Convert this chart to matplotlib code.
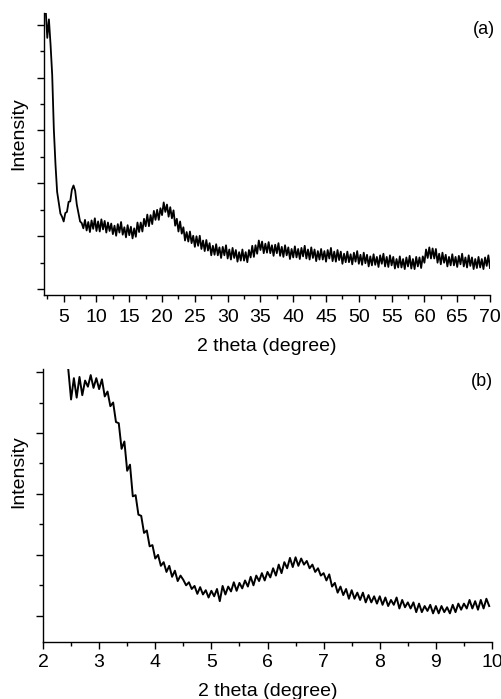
import numpy as np
import matplotlib
matplotlib.use("Agg")
import matplotlib.pyplot as plt
from matplotlib.ticker import MultipleLocator, NullFormatter

plt.rcParams['font.family'] = ['Liberation Sans', 'DejaVu Sans']

# ---- (a) wide-angle scan, 2.25-70 deg, 0.25 deg step ----
intensity_a = [
    5.30, 4.75, 5.10, 4.62, 4.05, 3.02, 2.36, 1.84,
    1.63, 1.43, 1.37, 1.28, 1.44, 1.46, 1.65, 1.66,
    1.88, 1.96, 1.86, 1.60, 1.44, 1.28, 1.25, 1.15,
    1.31, 1.11, 1.27, 1.08, 1.30, 1.14, 1.34, 1.10,
    1.28, 1.09, 1.32, 1.13, 1.29, 1.07, 1.26, 1.10,
    1.24, 1.04, 1.20, 1.01, 1.23, 1.07, 1.27, 1.03,
    1.17, 0.98, 1.21, 1.02, 1.18, 0.96, 1.15, 0.99,
    1.26, 1.08, 1.26, 1.09, 1.33, 1.19, 1.41, 1.19,
    1.40, 1.23, 1.48, 1.31, 1.50, 1.31, 1.53, 1.40,
    1.64, 1.46, 1.60, 1.37, 1.55, 1.34, 1.49, 1.20,
    1.33, 1.09, 1.28, 1.05, 1.17, 0.92, 1.08, 0.90,
    1.09, 0.87, 1.01, 0.80, 1.00, 0.82, 1.01, 0.76,
    0.92, 0.72, 0.93, 0.73, 0.87, 0.64, 0.82, 0.65,
    0.85, 0.64, 0.79, 0.59, 0.80, 0.64, 0.83, 0.58,
    0.75, 0.56, 0.78, 0.59, 0.74, 0.52, 0.70, 0.54,
    0.75, 0.54, 0.70, 0.51, 0.74, 0.60, 0.82, 0.61,
    0.83, 0.67, 0.92, 0.74, 0.90, 0.68, 0.86, 0.69,
    0.89, 0.68, 0.83, 0.63, 0.84, 0.68, 0.87, 0.63,
    0.80, 0.61, 0.83, 0.64, 0.79, 0.57, 0.76, 0.60,
    0.81, 0.60, 0.76, 0.57, 0.78, 0.62, 0.82, 0.58,
    0.75, 0.56, 0.79, 0.59, 0.75, 0.53, 0.72, 0.56,
    0.76, 0.56, 0.72, 0.52, 0.74, 0.58, 0.78, 0.53,
    0.71, 0.52, 0.74, 0.55, 0.71, 0.48, 0.67, 0.51,
    0.71, 0.51, 0.66, 0.47, 0.69, 0.52, 0.72, 0.48,
    0.65, 0.46, 0.69, 0.49, 0.65, 0.43, 0.62, 0.45,
    0.66, 0.46, 0.61, 0.42, 0.64, 0.48, 0.67, 0.43,
    0.61, 0.42, 0.64, 0.45, 0.61, 0.39, 0.57, 0.41,
    0.62, 0.41, 0.57, 0.38, 0.60, 0.43, 0.63, 0.39,
    0.57, 0.38, 0.61, 0.43, 0.60, 0.40, 0.62, 0.50,
    0.75, 0.59, 0.79, 0.58, 0.77, 0.58, 0.76, 0.50,
    0.67, 0.47, 0.69, 0.50, 0.65, 0.43, 0.61, 0.45,
    0.66, 0.45, 0.61, 0.42, 0.63, 0.47, 0.67, 0.43,
    0.60, 0.41, 0.64, 0.44, 0.60, 0.38, 0.57, 0.40,
    0.61, 0.41, 0.57, 0.38, 0.60, 0.44, 0.64, 0.40,
]
two_theta_a = np.linspace(2.25, 70.0, len(intensity_a))

# ---- (b) low-angle scan, 2.45-9.95 deg, 0.05 deg step ----
intensity_b = [
    4.05, 3.55, 3.90, 3.58, 3.92, 3.62, 3.86, 3.76, 3.95, 3.74, 3.90,
    3.72, 3.88, 3.60, 3.68, 3.44, 3.50, 3.18, 3.16, 2.74, 2.86,
    2.38, 2.48, 1.96, 1.98, 1.66, 1.64, 1.36, 1.40, 1.14, 1.16,
    0.94, 1.00, 0.82, 0.88, 0.72, 0.82, 0.64, 0.74, 0.57, 0.66,
    0.59, 0.50, 0.55, 0.44, 0.49, 0.36, 0.47, 0.35, 0.42, 0.30,
    0.41, 0.32, 0.44, 0.24, 0.49, 0.35, 0.48, 0.40, 0.55, 0.41,
    0.54, 0.45, 0.58, 0.48, 0.64, 0.50, 0.66, 0.57, 0.70, 0.58,
    0.72, 0.63, 0.78, 0.66, 0.84, 0.70, 0.88, 0.78, 0.95, 0.80,
    0.96, 0.82, 0.94, 0.84, 0.90, 0.78, 0.84, 0.72, 0.78, 0.66,
    0.70, 0.58, 0.68, 0.48, 0.54, 0.38, 0.48, 0.34, 0.44, 0.28,
    0.42, 0.28, 0.38, 0.26, 0.38, 0.22, 0.34, 0.22, 0.32, 0.20,
    0.32, 0.18, 0.30, 0.16, 0.26, 0.18, 0.30, 0.12, 0.26, 0.14,
    0.22, 0.12, 0.22, 0.06, 0.20, 0.06, 0.16, 0.08, 0.18, 0.04,
    0.16, 0.04, 0.16, 0.06, 0.14, 0.04, 0.18, 0.06, 0.20, 0.10,
    0.20, 0.12, 0.26, 0.12, 0.24, 0.10, 0.26, 0.12, 0.28, 0.16,
]
two_theta_b = np.linspace(2.45, 9.95, len(intensity_b))

xticks_a = list(range(5, 71, 5))
xticks_b = list(range(2, 11))

W, H = 501, 699
fig = plt.figure(figsize=(W / 100, H / 100), dpi=100)


def px_axes(left, top, right, bottom):
    return fig.add_axes([left / W, 1 - bottom / H, (right - left) / W, (bottom - top) / H])


ax_a = px_axes(44, 13, 490, 295)
ax_b = px_axes(43, 369, 492, 642)

ax_a.plot(two_theta_a, intensity_a, color='black', lw=1.3)
ax_b.plot(two_theta_b, intensity_b, color='black', lw=1.4)

ax_a.set_xlim(2, 70)
ax_a.set_ylim(-0.11, 5.22)
ax_b.set_xlim(2, 10)
ax_b.set_ylim(-0.43, 4.05)

ax_a.set_xticks(xticks_a)
ax_a.xaxis.set_minor_locator(MultipleLocator(2.5))
ax_b.set_xticks(xticks_b)
ax_b.xaxis.set_minor_locator(MultipleLocator(0.5))

for ax, pad in ((ax_a, 5), (ax_b, 3.5)):
    ax.yaxis.set_major_locator(MultipleLocator(1))
    ax.yaxis.set_minor_locator(MultipleLocator(0.5))
    ax.yaxis.set_major_formatter(NullFormatter())
    for s in ('top', 'right'):
        ax.spines[s].set_visible(False)
    for s in ('left', 'bottom'):
        ax.spines[s].set_linewidth(1.0)
    ax.tick_params(which='major', direction='out', length=5, width=1.0,
                   labelsize=14, pad=pad)
    ax.tick_params(which='minor', direction='out', length=3, width=1.0)
    ax.set_xlabel('2 theta (degree)', fontsize=14)
    ax.set_ylabel('Intensity', fontsize=14)

ax_a.xaxis.set_label_coords(0.5, -0.152)
ax_b.xaxis.set_label_coords(0.5, -0.151)
ax_a.yaxis.set_label_coords(-0.038, 0.574)
ax_b.yaxis.set_label_coords(-0.036, 0.625)

fig.text(484 / W, 1 - 29 / H, '(a)', fontsize=13, ha='center', va='center')
fig.text(482 / W, 1 - 381 / H, '(b)', fontsize=13, ha='center', va='center')

fig.savefig('out.png', dpi=100)
